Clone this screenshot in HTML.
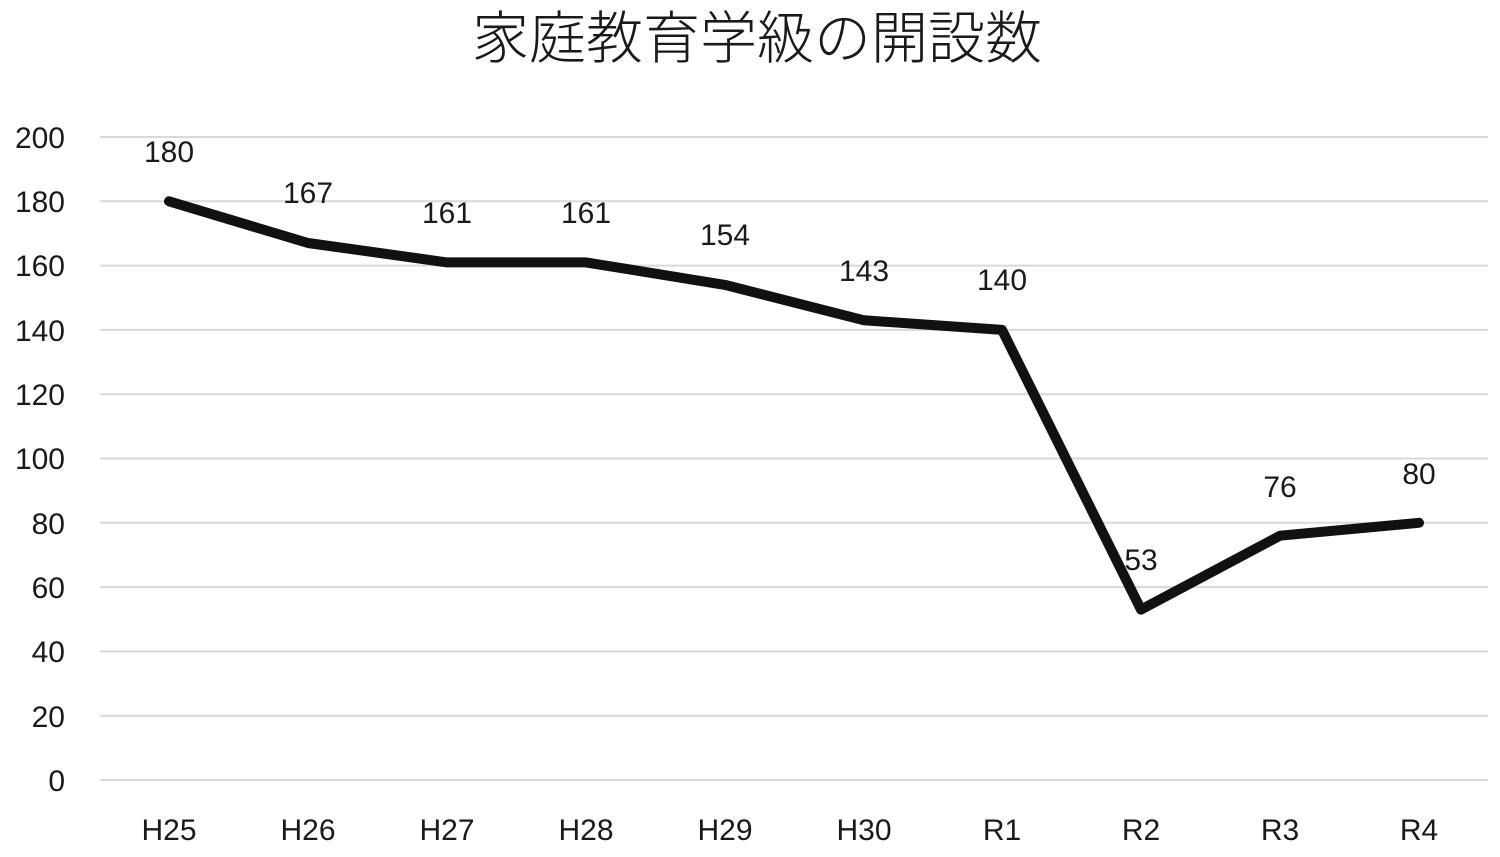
<!DOCTYPE html>
<html><head><meta charset="utf-8"><style>
html,body{margin:0;padding:0;background:#fff;}
svg{display:block;}
text{font-family:"Liberation Sans","Noto Sans CJK JP",sans-serif;fill:#1a1a1a;}
</style></head><body>
<svg width="1500" height="857" viewBox="0 0 1500 857" xmlns="http://www.w3.org/2000/svg">
<text x="757" y="58" font-size="57" text-anchor="middle" style="font-family:'Noto Sans CJK JP',sans-serif;font-weight:300" fill="#222">家庭教育学級の開設数</text>
<g stroke="#d9d9d9" stroke-width="2">
<line x1="100" x2="1488" y1="137" y2="137"/>
<line x1="100" x2="1488" y1="201.3" y2="201.3"/>
<line x1="100" x2="1488" y1="265.6" y2="265.6"/>
<line x1="100" x2="1488" y1="329.9" y2="329.9"/>
<line x1="100" x2="1488" y1="394.2" y2="394.2"/>
<line x1="100" x2="1488" y1="458.5" y2="458.5"/>
<line x1="100" x2="1488" y1="522.8" y2="522.8"/>
<line x1="100" x2="1488" y1="587.1" y2="587.1"/>
<line x1="100" x2="1488" y1="651.4" y2="651.4"/>
<line x1="100" x2="1488" y1="715.7" y2="715.7"/>
<line x1="100" x2="1488" y1="780" y2="780"/>
</g>
<g font-size="30" text-anchor="end">
<text x="65" y="148">200</text><text x="65" y="212">180</text><text x="65" y="276">160</text>
<text x="65" y="341">140</text><text x="65" y="405">120</text><text x="65" y="469">100</text>
<text x="65" y="534">80</text><text x="65" y="598">60</text><text x="65" y="662">40</text>
<text x="65" y="727">20</text><text x="65" y="791">0</text>
</g>
<g font-size="30" text-anchor="middle">
<text x="169" y="840">H25</text><text x="308" y="840">H26</text><text x="447" y="840">H27</text>
<text x="586" y="840">H28</text><text x="725" y="840">H29</text><text x="864" y="840">H30</text>
<text x="1002" y="840">R1</text><text x="1141" y="840">R2</text><text x="1280" y="840">R3</text><text x="1419" y="840">R4</text>
</g>
<polyline fill="none" stroke="#111" stroke-width="10" stroke-linejoin="round" stroke-linecap="round"
points="169,201.3 308,243 447,262.4 586,262.4 725,284.9 864,320.3 1002,329.9 1141,609.6 1280,535.7 1419,522.8"/>
<g font-size="30" text-anchor="middle">
<text x="169" y="162">180</text><text x="308" y="203">167</text><text x="447" y="223">161</text>
<text x="586" y="223">161</text><text x="725" y="245">154</text><text x="864" y="281">143</text>
<text x="1002" y="290">140</text><text x="1141" y="570">53</text><text x="1280" y="497">76</text><text x="1419" y="484">80</text>
</g>
</svg>
</body></html>
